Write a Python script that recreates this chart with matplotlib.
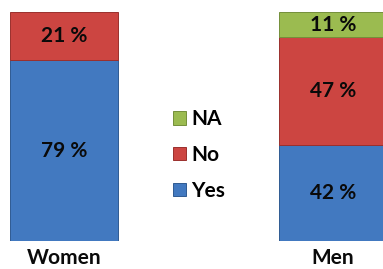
import matplotlib.pyplot as plt
from matplotlib.patches import Patch

categories = ['Women', 'Men']
yes = [79, 42]
no = [21, 47]
na = [0, 11]
series_names = ['Yes', 'No', 'NA']

colors = {'Yes': '#4279c0', 'No': '#cc4541', 'NA': '#9bbb50'}
edges = {'Yes': '#2f5a92', 'No': '#9a302d', 'NA': '#748f3a'}

plt.rcParams['font.family'] = ['Lato', 'DejaVu Sans']

fig = plt.figure(figsize=(3.83, 2.69), dpi=100)
ax = fig.add_axes([0, 28 / 269, 1, 229 / 269])

x = list(range(len(categories)))
width = 0.40
bottoms = [0] * len(categories)
for name, vals in zip(series_names, [yes, no, na]):
    xs = [xi for xi, v in zip(x, vals) if v > 0]
    vs = [v for v in vals if v > 0]
    bs = [b for b, v in zip(bottoms, vals) if v > 0]
    ax.bar(xs, vs, width=width, bottom=bs, color=colors[name],
           edgecolor=edges[name], linewidth=0.7)
    for xi, v, b in zip(xs, vs, bs):
        ax.text(xi, b + v / 2, f'{v} %', ha='center', va='center',
                fontsize=15, fontweight='bold', color='#0a0a0a')
    bottoms = [b + v for b, v in zip(bottoms, vals)]

ax.set_xlim(-0.238, 1.186)
ax.set_ylim(0, 100)
for s in ax.spines.values():
    s.set_visible(False)
ax.set_yticks([])
ax.set_xticks(x)
ax.set_xticklabels(categories, fontsize=15, fontweight='bold', color='#0a0a0a')
ax.tick_params(axis='x', length=0, pad=5)

handles = [Patch(facecolor=colors[n], edgecolor=edges[n], linewidth=0.7) for n in ['NA', 'No', 'Yes']]
fig.legend(handles, ['NA', 'No', 'Yes'], loc='center left',
           bbox_to_anchor=(163 / 383, 1 - 155 / 269), frameon=False,
           prop={'size': 15, 'weight': 'bold'}, handlelength=0.6, handleheight=0.6,
           handletextpad=0.25, labelspacing=0.75, borderpad=0)

fig.savefig('out.png', dpi=100)
